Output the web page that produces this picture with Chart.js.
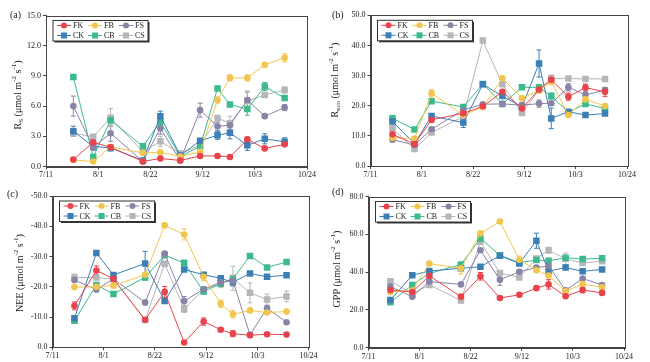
<!DOCTYPE html>
<html>
<head>
<meta charset="utf-8">
<script src="https://cdn.jsdelivr.net/npm/chart.js@4"></script>
<style>
  body { margin: 0; background: #fff; }
  #wrap { position: relative; width: 650px; height: 362px; }
  canvas { position: absolute; }
</style>
</head>
<body>
<div id="wrap">
  <canvas id="chartA" width="325" height="181" style="left:0;top:0;width:325px;height:181px"></canvas>
  <canvas id="chartB" width="325" height="181" style="left:325px;top:0;width:325px;height:181px"></canvas>
  <canvas id="chartC" width="325" height="181" style="left:0;top:181px;width:325px;height:181px"></canvas>
  <canvas id="chartD" width="325" height="181" style="left:325px;top:181px;width:325px;height:181px"></canvas>
</div>
<script>
// treatments, in legend order
const seriesNames = ['FK', 'FB', 'FS', 'CK', 'CB', 'CS'];
const seriesColors = ['#e8434c', '#f2c64e', '#8884a6', '#3b7fb5', '#3dba8c', '#b6b6ba'];

// x axis: days from 7/11, ticks every 3 weeks
const xTickLabels = ['7/11', '8/1', '8/22', '9/12', '10/3', '10/24'];

// sampling dates (soil respiration was sampled on slightly different days)
const datesRs = ['7/22', '7/30', '8/6', '8/19', '8/26', '9/3', '9/11', '9/18', '9/23', '9/30', '10/7', '10/15'];
const datesFlux = ['7/20', '7/29', '8/5', '8/18', '8/26', '9/3', '9/11', '9/18', '9/23', '9/30', '10/7', '10/15'];

// (a) Rs
const rsFK = [0.7, 2.4, 1.9, 0.5, 0.8, 0.6, 1.05, 1.05, 0.95, 2.7, 1.8, 2.2];
const rsFB = [0.65, 0.5, 1.95, 1.35, 1.4, 1.0, 1.45, 6.6, 8.8, 8.8, 10.1, 10.8];
const rsFS = [6.0, 1.9, 3.3, 0.5, 3.8, 0.6, 5.6, 4.0, 4.1, 6.6, 5.0, 5.85];
const rsCK = [3.5, 2.0, 1.85, 0.6, 5.0, 1.1, 2.55, 3.1, 3.35, 2.1, 2.75, 2.45];
const rsCB = [8.9, 0.95, 4.6, 2.0, 4.45, 1.0, 2.0, 7.75, 6.15, 5.7, 7.95, 6.8];
const rsCS = [3.3, 2.95, 4.85, 1.45, 2.5, 1.3, 2.1, 4.8, 4.3, 6.5, 7.1, 7.6];
const rsFKErr = [0.1, 0.3, 0.2, 0.1, 0.1, 0.1, 0.1, 0.1, 0.1, 0.2, 0.1, 0.1];
const rsFBErr = [0.1, 0.1, 0.2, 0.1, 0.1, 0.1, 0.1, 0.3, 0.3, 0.3, 0.2, 0.4];
const rsFSErr = [1.0, 0.3, 0.8, 0.2, 0.6, 0.1, 0.7, 0.4, 0.4, 0.8, 0.1, 0.3];
const rsCKErr = [0.5, 0.3, 0.3, 0.1, 0.5, 0.2, 0.2, 0.4, 0.6, 0.5, 0.5, 0.4];
const rsCBErr = [0.2, 0.2, 0.3, 0.2, 0.3, 0.2, 0.2, 0.2, 0.2, 0.6, 0.4, 0.2];
const rsCSErr = [0.3, 0.2, 0.9, 0.2, 0.5, 0.2, 0.2, 0.3, 0.7, 1.0, 0.2, 0.3];

// (b) Reco
const recoFK = [10.5, 7.3, 15.3, 17.5, 19.8, 24.6, 19.1, 25.4, 28.6, 23.0, 26.0, 24.6];
const recoFB = [9.4, 9.1, 24.1, 16.9, 19.5, 29.1, 22.5, 25.0, 28.0, 16.9, 22.1, 19.9];
const recoFS = [8.7, 7.0, 12.2, 18.6, 20.5, 20.6, 20.2, 20.7, 20.8, 26.1, 23.6, 25.2];
const recoCK = [14.8, 7.4, 16.6, 14.4, 27.1, 23.2, 19.6, 34.0, 15.8, 18.0, 16.9, 17.4];
const recoCB = [15.8, 12.1, 21.5, 19.6, 27.2, 20.6, 26.1, 26.1, 23.2, 17.8, 20.6, 19.1];
const recoCS = [12.5, 5.6, 11.1, 16.4, 41.6, 27.1, 17.6, 25.2, 29.0, 29.0, 28.9, 28.9];
const recoFKErr = [0.8, 0.4, 0.6, 0.5, 0.5, 0.8, 0.6, 0.8, 1.5, 1.2, 1.2, 1.5];
const recoFBErr = [0.5, 0.5, 1.2, 0.5, 0.5, 0.8, 0.8, 0.6, 1.0, 0.6, 0.8, 0.6];
const recoFSErr = [0.5, 0.5, 0.8, 0.5, 0.5, 0.5, 0.8, 1.2, 0.6, 1.2, 0.6, 0.8];
const recoCKErr = [0.6, 0.5, 0.6, 1.6, 0.6, 0.8, 0.6, 4.5, 3.4, 0.6, 0.8, 0.5];
const recoCBErr = [1.0, 0.5, 0.6, 0.6, 0.8, 0.6, 0.5, 0.6, 1.0, 0.6, 0.6, 0.5];
const recoCSErr = [0.5, 0.5, 0.6, 0.6, 0.3, 0.5, 0.5, 0.5, 0.5, 0.4, 0.4, 0.4];

// (c) NEE
const neeFK = [-13.7, -25.4, -22.6, -9.1, -18.3, -1.6, -8.5, -5.8, -4.5, -4.0, -4.3, -4.2];
const neeFB = [-19.9, -20.0, -20.4, -24.0, -40.3, -37.3, -23.3, -14.4, -10.9, -12.2, -11.5, -11.8];
const neeFS = [-22.2, -19.1, -22.6, -14.8, -31.0, -15.3, -19.2, -21.5, -22.0, -4.1, -12.9, -8.3];
const neeCK = [-9.6, -31.2, -23.9, -27.7, -15.3, -25.7, -24.0, -22.8, -21.5, -24.4, -23.3, -23.8];
const neeCB = [-8.8, -20.6, -17.6, -23.1, -30.4, -27.9, -18.4, -21.0, -22.6, -30.2, -26.4, -28.2];
const neeCS = [-23.0, -23.1, -22.5, -9.0, -27.6, -12.7, -19.0, -21.2, -22.8, -18.0, -15.8, -16.8];
const neeFKErr = [1.3, 1.5, 0.5, 0.5, 1.8, 0.5, 1.2, 0.5, 1.0, 0.5, 0.5, 0.5];
const neeFBErr = [0.5, 0.5, 0.8, 0.5, 0.8, 1.8, 1.3, 1.2, 1.2, 0.5, 0.5, 0.5];
const neeFSErr = [0.8, 0.8, 0.5, 0.8, 0.5, 1.5, 0.8, 1.0, 1.8, 0.8, 0.8, 0.5];
const neeCKErr = [0.8, 0.5, 0.5, 4.0, 0.8, 0.5, 0.5, 0.5, 0.8, 0.5, 0.5, 0.5];
const neeCBErr = [0.5, 0.8, 0.8, 0.8, 0.5, 0.5, 0.8, 0.5, 0.8, 0.5, 0.5, 0.5];
const neeCSErr = [1.2, 0.8, 0.5, 0.5, 0.8, 1.2, 0.8, 1.5, 4.0, 3.3, 1.8, 1.8];

// (d) GPP
const gppFK = [30.5, 29.5, 38.0, 27.0, 37.8, 26.3, 28.0, 31.5, 33.5, 27.2, 30.5, 29.0];
const gppFB = [29.5, 30.3, 44.5, 42.0, 60.5, 66.8, 46.5, 41.0, 38.2, 29.8, 33.7, 32.0];
const gppFS = [32.3, 27.0, 35.0, 33.5, 51.6, 36.0, 40.2, 42.4, 43.2, 30.4, 36.6, 33.2];
const gppCK = [25.2, 38.3, 40.6, 42.0, 42.8, 48.7, 44.6, 56.6, 40.5, 42.4, 40.4, 41.4];
const gppCB = [24.0, 33.2, 39.3, 44.0, 57.8, 48.9, 45.0, 46.4, 46.0, 47.6, 46.9, 47.3];
const gppCS = [35.2, 28.5, 33.2, 25.0, 56.0, 39.5, 37.2, 47.2, 51.6, 47.0, 44.8, 45.8];
const gppFKErr = [0.8, 0.5, 0.8, 0.8, 2.0, 0.5, 0.5, 1.0, 2.5, 0.5, 1.5, 0.8];
const gppFBErr = [0.8, 0.8, 0.8, 3.0, 1.0, 0.8, 2.0, 0.8, 1.0, 0.5, 1.0, 0.8];
const gppFSErr = [0.8, 0.8, 0.8, 0.5, 0.8, 3.0, 0.8, 0.8, 1.0, 0.5, 0.8, 0.5];
const gppCKErr = [0.8, 0.8, 0.8, 0.5, 0.8, 0.8, 0.8, 4.0, 1.0, 0.8, 1.0, 0.8];
const gppCBErr = [0.8, 0.8, 0.8, 1.0, 0.8, 1.0, 0.8, 0.8, 0.8, 0.8, 0.8, 0.8];
const gppCSErr = [0.8, 0.8, 0.8, 0.8, 0.8, 0.8, 0.8, 0.8, 1.5, 3.0, 1.0, 0.8];

const axisColor = '#444';
const textColor = '#222';
const serif = '"Liberation Serif", "DejaVu Serif", serif';

// "m/d" -> days after 7/11
const monthOffset = { 7: -11, 8: 20, 9: 51, 10: 81 };
function toDay(str) {
  const [m, d] = str.split('/').map(Number);
  return monthOffset[m] + d;
}

/* error bars drawn under the markers */
const errorBarPlugin = {
  id: 'errorBars',
  beforeDatasetsDraw(chart) {
    const ctx = chart.ctx;
    const yScale = chart.scales.y;
    chart.data.datasets.forEach((ds, i) => {
      const meta = chart.getDatasetMeta(i);
      ctx.save();
      ctx.strokeStyle = ds.borderColor;
      ctx.lineWidth = 1;
      meta.data.forEach((pt, j) => {
        const v = ds.data[j].y;
        const e = ds.errors[j];
        const y1 = yScale.getPixelForValue(v + e);
        const y2 = yScale.getPixelForValue(v - e);
        ctx.beginPath();
        ctx.moveTo(pt.x, y1); ctx.lineTo(pt.x, y2);
        ctx.moveTo(pt.x - 2.5, y1); ctx.lineTo(pt.x + 2.5, y1);
        ctx.moveTo(pt.x - 2.5, y2); ctx.lineTo(pt.x + 2.5, y2);
        ctx.stroke();
      });
      ctx.restore();
    });
  }
};

/* box around the plot, legend, panel letter and y title */
const decorPlugin = {
  id: 'decor',
  afterDraw(chart, args, opts) {
    const ctx = chart.ctx;
    const a = chart.chartArea;
    ctx.save();
    ctx.strokeStyle = axisColor;
    ctx.lineWidth = 1;
    ctx.strokeRect(Math.round(a.left) + 0.5, Math.round(a.top) + 0.5,
      Math.round(a.right - a.left), Math.round(a.bottom - a.top));

    // legend box with shadow
    const bx = a.left + 7, by = a.top + 5, bw = 95, bh = 20.5;
    ctx.fillStyle = '#333';
    ctx.fillRect(bx + 1.5, by + 1.5, bw, bh);
    ctx.fillStyle = '#fff';
    ctx.fillRect(bx, by, bw, bh);
    ctx.strokeStyle = '#333';
    ctx.strokeRect(bx, by, bw, bh);
    ctx.font = '8px ' + serif;
    ctx.textBaseline = 'middle';
    ctx.textAlign = 'left';
    chart.data.datasets.forEach((ds, i) => {
      const x0 = bx + 4 + (i % 3) * 31;
      const y0 = by + 5 + Math.floor(i / 3) * 10;
      ctx.strokeStyle = ds.borderColor;
      ctx.beginPath();
      ctx.moveTo(x0, y0); ctx.lineTo(x0 + 14, y0);
      ctx.stroke();
      ctx.fillStyle = ds.borderColor;
      if (ds.pointStyle === 'circle') {
        ctx.beginPath();
        ctx.arc(x0 + 7, y0, 3, 0, Math.PI * 2);
        ctx.fill();
      } else {
        ctx.fillRect(x0 + 4, y0 - 3, 6, 6);
      }
      ctx.fillStyle = textColor;
      ctx.fillText(ds.label, x0 + 16, y0 + 0.5);
    });

    // panel letter
    ctx.font = '10px ' + serif;
    ctx.fillStyle = textColor;
    ctx.textAlign = 'left';
    ctx.fillText(opts.letter, opts.letterX, opts.letterY);

    // rotated y title with sub/superscripts
    const base = 10, small = 7;
    let total = 0;
    opts.title.forEach(([t, kind]) => {
      ctx.font = (kind ? small : base) + 'px ' + serif;
      total += ctx.measureText(t).width;
    });
    ctx.translate(opts.titleX, opts.titleY);
    ctx.rotate(-Math.PI / 2);
    let x = -total / 2;
    opts.title.forEach(([t, kind]) => {
      ctx.font = (kind ? small : base) + 'px ' + serif;
      const dy = kind === 'sub' ? 3 : kind === 'sup' ? -3.5 : 0;
      ctx.fillText(t, x, dy);
      x += ctx.measureText(t).width;
    });
    ctx.restore();
  }
};

function buildChart(canvasId, p) {
  const datasets = seriesNames.map((name, i) => ({
    label: name,
    data: p.dates.map((d, j) => ({ x: toDay(d), y: p.values[i][j] })),
    errors: p.errors[i],
    borderColor: seriesColors[i],
    backgroundColor: seriesColors[i],
    pointBorderColor: seriesColors[i],
    pointBackgroundColor: seriesColors[i],
    borderWidth: 1,
    pointStyle: i < 3 ? 'circle' : 'rect',
    pointRadius: i < 3 ? 3.3 : 4.6,
    pointBorderWidth: 0,
    tension: 0
  }));
  const tickFont = { family: serif, size: 8 };
  return new Chart(document.getElementById(canvasId), {
    type: 'line',
    data: { datasets },
    options: {
      responsive: false,
      animation: false,
      layout: { padding: { left: 0, right: p.padRight, top: p.padTop, bottom: 0 } },
      plugins: {
        legend: { display: false },
        tooltip: { enabled: false },
        decor: { letter: p.letter, letterX: p.letterX, letterY: p.letterY, title: p.title, titleX: p.titleX, titleY: p.titleY }
      },
      scales: {
        x: {
          type: 'linear', min: 0, max: 105,
          afterBuildTicks: (s) => { s.ticks = xTickLabels.map((l, i) => ({ value: i * 21 })); },
          ticks: { callback: (v, i) => xTickLabels[i], font: tickFont, color: textColor, maxRotation: 0, autoSkip: false, padding: 1 },
          grid: { display: true, drawOnChartArea: false, tickLength: 3, color: axisColor },
          border: { color: axisColor },
          afterFit: (s) => { s.height = p.xHeight; }
        },
        y: {
          min: p.yMin, max: p.yMax, reverse: !!p.reverse,
          afterBuildTicks: (s) => {
            const t = [];
            for (let v = p.yMin; v <= p.yMax + 1e-9; v += p.yStep) t.push({ value: v });
            s.ticks = t;
          },
          ticks: { callback: (v) => (Math.abs(v) < 1e-9 ? 0 : v).toFixed(1), font: tickFont, color: textColor, padding: 2 },
          grid: { display: true, drawOnChartArea: false, tickLength: 3, color: axisColor },
          border: { color: axisColor },
          afterFit: (s) => { s.width = p.yWidth; }
        }
      }
    },
    plugins: [errorBarPlugin, decorPlugin]
  });
}

const unitTail = [[' (\u03bcmol m', ''], ['-2', 'sup'], [' s', ''], ['-1', 'sup'], [')', '']];

buildChart('chartA', {
  dates: datesRs,
  values: [rsFK, rsFB, rsFS, rsCK, rsCB, rsCS],
  errors: [rsFKErr, rsFBErr, rsFSErr, rsCKErr, rsCBErr, rsCSErr],
  yMin: 0, yMax: 15, yStep: 3,
  yWidth: 46, xHeight: 14.5, padTop: 15.5, padRight: 18,
  letter: '(a)', letterX: 10, letterY: 15,
  title: [['R', ''], ['S', 'sub']].concat(unitTail), titleX: 18, titleY: 95
});

buildChart('chartB', {
  dates: datesFlux,
  values: [recoFK, recoFB, recoFS, recoCK, recoCB, recoCS],
  errors: [recoFKErr, recoFBErr, recoFSErr, recoCKErr, recoCBErr, recoCSErr],
  yMin: 0, yMax: 50, yStep: 10,
  yWidth: 45.5, xHeight: 15, padTop: 15.3, padRight: 23,
  letter: '(b)', letterX: 7, letterY: 15,
  title: [['R', ''], ['eco', 'sub']].concat(unitTail), titleX: 10, titleY: 80
});

buildChart('chartC', {
  dates: datesFlux,
  values: [neeFK, neeFB, neeFS, neeCK, neeCB, neeCS],
  errors: [neeFKErr, neeFBErr, neeFSErr, neeCKErr, neeCBErr, neeCSErr],
  yMin: -50, yMax: 0, yStep: 10, reverse: true,
  yWidth: 52.5, xHeight: 14.7, padTop: 15, padRight: 16.5,
  letter: '(c)', letterX: 7, letterY: 13,
  title: [['NEE', '']].concat(unitTail), titleX: 20, titleY: 92
});

buildChart('chartD', {
  dates: datesFlux,
  values: [gppFK, gppFB, gppFS, gppCK, gppCB, gppCS],
  errors: [gppFKErr, gppFBErr, gppFSErr, gppCKErr, gppCBErr, gppCSErr],
  yMin: 0, yMax: 80, yStep: 20,
  yWidth: 43.5, xHeight: 14.3, padTop: 15.5, padRight: 26,
  letter: '(d)', letterX: 7, letterY: 11,
  title: [['GPP', '']].concat(unitTail), titleX: 12, titleY: 88
});
</script>
</body>
</html>
